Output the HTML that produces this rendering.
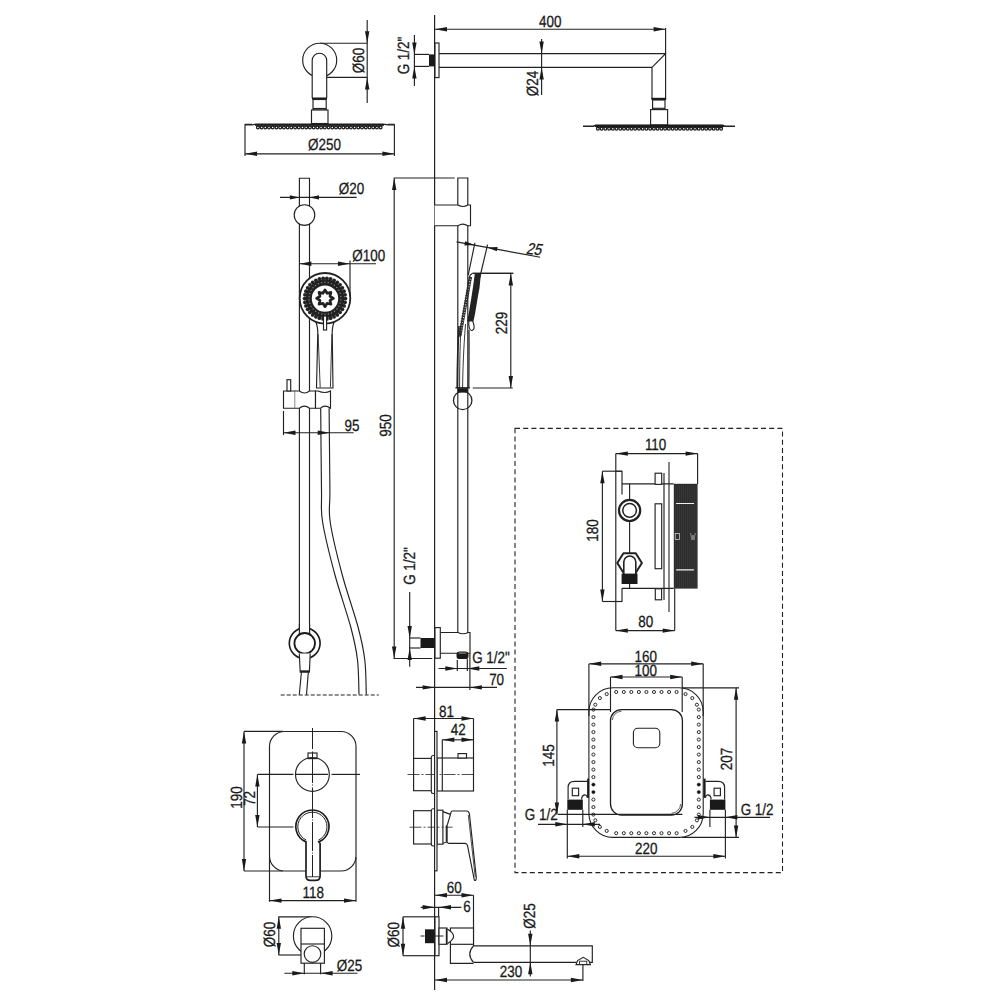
<!DOCTYPE html>
<html><head><meta charset="utf-8"><style>
html,body{margin:0;padding:0;background:#fff;}
svg{display:block;}
text{font-family:"Liberation Sans",sans-serif;fill:#1a1a1a;stroke:#1a1a1a;stroke-width:0.3px;text-rendering:geometricPrecision;}
</style></head><body>
<svg width="1000" height="1000" viewBox="0 0 1000 1000">
<line x1="320" y1="43.2" x2="367.2" y2="43.2" stroke="#222" stroke-width="1.15" />
<line x1="321.5" y1="77.4" x2="367.2" y2="77.4" stroke="#222" stroke-width="1.15" />
<line x1="367.2" y1="20" x2="367.2" y2="103" stroke="#222" stroke-width="1.15" />
<polygon points="367.20,43.20 365.00,31.20 369.40,31.20" fill="#1a1a1a"/>
<polygon points="367.20,77.40 369.40,89.40 365.00,89.40" fill="#1a1a1a"/>
<text transform="translate(364.2,60.5) rotate(-90) scale(0.83,1)" text-anchor="middle" font-size="16.2">Ø60</text>
<circle cx="319.7" cy="60.2" r="17" stroke="#222" stroke-width="1.15" fill="white" />
<path d="M312.2,98 L312.2,60.5 A7.25,7.25 0 0 1 326.7,60.5 L326.7,98" stroke="#222" stroke-width="1.15" fill="white" />
<rect x="312" y="97.5" width="15" height="2.0" fill="#1a1a1a"/>
<rect x="313" y="99.5" width="13.199999999999989" height="10.5" rx="0" stroke="#222" stroke-width="1.15" fill="white" />
<line x1="313" y1="108.5" x2="326.2" y2="108.5" stroke="#222" stroke-width="1.15" />
<rect x="311.5" y="110" width="16.5" height="13.5" rx="0" stroke="#222" stroke-width="1.15" fill="white" />
<polyline points="245,124.9 252,124.9 256,124.2 383,124.2 388,124.9 394.4,124.9" stroke="#222" stroke-width="1.2" fill="none" stroke-linejoin="round" />
<rect x="255" y="124" width="129" height="1.7999999999999972" fill="#1a1a1a"/>
<line x1="245" y1="124.3" x2="252" y2="124.3" stroke="#222" stroke-width="1.15" />
<line x1="388" y1="124.3" x2="394.4" y2="124.3" stroke="#222" stroke-width="1.15" />
<rect x="256" y="125.5" width="126.5" height="1.2" fill="#222"/>
<g fill="#fff" stroke="#1a1a1a" stroke-width="1.25"><circle cx="257.9" cy="127.5" r="1.4"/><circle cx="261.6" cy="127.5" r="1.4"/><circle cx="265.3" cy="127.5" r="1.4"/><circle cx="269.0" cy="127.5" r="1.4"/><circle cx="272.7" cy="127.5" r="1.4"/><circle cx="276.5" cy="127.5" r="1.4"/><circle cx="280.2" cy="127.5" r="1.4"/><circle cx="283.9" cy="127.5" r="1.4"/><circle cx="287.6" cy="127.5" r="1.4"/><circle cx="291.3" cy="127.5" r="1.4"/><circle cx="295.1" cy="127.5" r="1.4"/><circle cx="298.8" cy="127.5" r="1.4"/><circle cx="302.5" cy="127.5" r="1.4"/><circle cx="306.2" cy="127.5" r="1.4"/><circle cx="309.9" cy="127.5" r="1.4"/><circle cx="313.7" cy="127.5" r="1.4"/><circle cx="317.4" cy="127.5" r="1.4"/><circle cx="321.1" cy="127.5" r="1.4"/><circle cx="324.8" cy="127.5" r="1.4"/><circle cx="328.6" cy="127.5" r="1.4"/><circle cx="332.3" cy="127.5" r="1.4"/><circle cx="336.0" cy="127.5" r="1.4"/><circle cx="339.7" cy="127.5" r="1.4"/><circle cx="343.4" cy="127.5" r="1.4"/><circle cx="347.2" cy="127.5" r="1.4"/><circle cx="350.9" cy="127.5" r="1.4"/><circle cx="354.6" cy="127.5" r="1.4"/><circle cx="358.3" cy="127.5" r="1.4"/><circle cx="362.0" cy="127.5" r="1.4"/><circle cx="365.8" cy="127.5" r="1.4"/><circle cx="369.5" cy="127.5" r="1.4"/><circle cx="373.2" cy="127.5" r="1.4"/><circle cx="376.9" cy="127.5" r="1.4"/><circle cx="380.6" cy="127.5" r="1.4"/></g>
<line x1="245" y1="124" x2="245" y2="156" stroke="#222" stroke-width="1.15" />
<line x1="394.4" y1="124" x2="394.4" y2="156" stroke="#222" stroke-width="1.15" />
<line x1="245" y1="153.8" x2="394.4" y2="153.8" stroke="#222" stroke-width="1.15" />
<polygon points="245.00,153.80 257.00,151.60 257.00,156.00" fill="#1a1a1a"/>
<polygon points="394.40,153.80 382.40,156.00 382.40,151.60" fill="#1a1a1a"/>
<text transform="translate(324.5,150) scale(0.83,1)" text-anchor="middle" font-size="16.2">Ø250</text>
<line x1="434.6" y1="15" x2="434.6" y2="990" stroke="#222" stroke-width="1.2" />
<line x1="434.6" y1="29.2" x2="665.6" y2="29.2" stroke="#222" stroke-width="1.15" />
<polygon points="435.00,29.20 447.00,27.00 447.00,31.40" fill="#1a1a1a"/>
<polygon points="665.60,29.20 653.60,31.40 653.60,27.00" fill="#1a1a1a"/>
<line x1="665.6" y1="28" x2="665.6" y2="53.6" stroke="#222" stroke-width="1.15" />
<text transform="translate(550.2,26.8) scale(0.83,1)" text-anchor="middle" font-size="16.2">400</text>
<path d="M439,53.6 L665.6,53.6 L665.6,99 M439,67.4 L652,67.4 L652,99 M665.6,53.6 L652,67.4" stroke="#222" stroke-width="1.15" fill="none" />
<rect x="651.5" y="97.8" width="14.600000000000023" height="2.200000000000003" fill="#1a1a1a"/>
<rect x="652.6" y="100" width="12.399999999999977" height="9.599999999999994" rx="0" stroke="#222" stroke-width="1.15" fill="white" />
<line x1="652.6" y1="108.3" x2="665" y2="108.3" stroke="#222" stroke-width="1.15" />
<rect x="650.6" y="109.6" width="17.0" height="15.400000000000006" rx="0" stroke="#222" stroke-width="1.15" fill="white" />
<polyline points="583,126.3 593,126.3 596,125.2 722,125.2 725,126.3 735,126.3" stroke="#222" stroke-width="1.6" fill="none" stroke-linejoin="round" />
<rect x="595" y="124.9" width="129" height="2.0999999999999943" fill="#1a1a1a"/>
<rect x="596" y="126.7" width="127" height="1.2" fill="#222"/>
<g fill="#fff" stroke="#1a1a1a" stroke-width="1.25"><circle cx="597.9" cy="128.7" r="1.4"/><circle cx="601.6" cy="128.7" r="1.4"/><circle cx="605.3" cy="128.7" r="1.4"/><circle cx="609.1" cy="128.7" r="1.4"/><circle cx="612.8" cy="128.7" r="1.4"/><circle cx="616.5" cy="128.7" r="1.4"/><circle cx="620.3" cy="128.7" r="1.4"/><circle cx="624.0" cy="128.7" r="1.4"/><circle cx="627.8" cy="128.7" r="1.4"/><circle cx="631.5" cy="128.7" r="1.4"/><circle cx="635.2" cy="128.7" r="1.4"/><circle cx="639.0" cy="128.7" r="1.4"/><circle cx="642.7" cy="128.7" r="1.4"/><circle cx="646.4" cy="128.7" r="1.4"/><circle cx="650.2" cy="128.7" r="1.4"/><circle cx="653.9" cy="128.7" r="1.4"/><circle cx="657.6" cy="128.7" r="1.4"/><circle cx="661.4" cy="128.7" r="1.4"/><circle cx="665.1" cy="128.7" r="1.4"/><circle cx="668.8" cy="128.7" r="1.4"/><circle cx="672.6" cy="128.7" r="1.4"/><circle cx="676.3" cy="128.7" r="1.4"/><circle cx="680.0" cy="128.7" r="1.4"/><circle cx="683.8" cy="128.7" r="1.4"/><circle cx="687.5" cy="128.7" r="1.4"/><circle cx="691.2" cy="128.7" r="1.4"/><circle cx="695.0" cy="128.7" r="1.4"/><circle cx="698.7" cy="128.7" r="1.4"/><circle cx="702.5" cy="128.7" r="1.4"/><circle cx="706.2" cy="128.7" r="1.4"/><circle cx="709.9" cy="128.7" r="1.4"/><circle cx="713.7" cy="128.7" r="1.4"/><circle cx="717.4" cy="128.7" r="1.4"/><circle cx="721.1" cy="128.7" r="1.4"/></g>
<rect x="435" y="43" width="4" height="34.599999999999994" rx="0" stroke="#222" stroke-width="1.15" fill="white" />
<rect x="429" y="54.4" width="6" height="12.000000000000007" fill="#1a1a1a"/>
<line x1="414.4" y1="35" x2="414.4" y2="86" stroke="#222" stroke-width="1.15" />
<line x1="414.4" y1="54.4" x2="429" y2="54.4" stroke="#222" stroke-width="1.15" />
<line x1="414.4" y1="66.4" x2="429" y2="66.4" stroke="#222" stroke-width="1.15" />
<polygon points="414.40,54.40 412.20,42.40 416.60,42.40" fill="#1a1a1a"/>
<polygon points="414.40,66.40 416.60,78.40 412.20,78.40" fill="#1a1a1a"/>
<text transform="translate(408.8,55.5) rotate(-90) scale(0.83,1)" text-anchor="middle" font-size="16.2">G 1/2&quot;</text>
<line x1="541.6" y1="39" x2="541.6" y2="95" stroke="#222" stroke-width="1.15" />
<polygon points="541.60,53.60 539.40,41.60 543.80,41.60" fill="#1a1a1a"/>
<polygon points="541.60,67.40 543.80,79.40 539.40,79.40" fill="#1a1a1a"/>
<text transform="translate(537.8,83.5) rotate(-90) scale(0.83,1)" text-anchor="middle" font-size="16.2">Ø24</text>
<path d="M299.4,629.8 L299.4,178.2 L309.5,178.2 L309.5,629.8" stroke="#222" stroke-width="1.15" fill="none" />
<circle cx="304.5" cy="215" r="10.3" stroke="#222" stroke-width="1.15" fill="white" />
<line x1="280" y1="197.4" x2="356.7" y2="197.4" stroke="#222" stroke-width="1.15" />
<polygon points="299.40,197.40 289.90,199.60 289.90,195.20" fill="#1a1a1a"/>
<polygon points="309.50,197.40 319.00,195.20 319.00,199.60" fill="#1a1a1a"/>
<text transform="translate(351.5,194) scale(0.83,1)" text-anchor="middle" font-size="16.2">Ø20</text>
<line x1="299.4" y1="263.7" x2="376" y2="263.7" stroke="#222" stroke-width="1.15" />
<polygon points="299.40,263.70 311.40,261.50 311.40,265.90" fill="#1a1a1a"/>
<polygon points="350.00,263.70 338.00,265.90 338.00,261.50" fill="#1a1a1a"/>
<line x1="350" y1="260.5" x2="350" y2="298" stroke="#222" stroke-width="1.15" />
<text transform="translate(368.8,260.7) scale(0.83,1)" text-anchor="middle" font-size="16.2">Ø100</text>
<path d="M314.8,318 C316.5,323 317.8,327 317.8,332 L316.5,388 L333,388 L332.2,332 C332.2,327 333.5,323 335.2,318" stroke="#222" stroke-width="1.15" fill="white" />
<path d="M318.1,334 L320.2,387.5" stroke="#222" stroke-width="0.9" fill="none" />
<path d="M331.9,334 L330.4,387.5" stroke="#222" stroke-width="0.9" fill="none" />
<circle cx="325" cy="298.3" r="25.3" stroke="#222" stroke-width="1.8" fill="white" />
<circle cx="325" cy="298.6" r="16.3" stroke="#222" stroke-width="6.2" fill="none"/>
<g fill="#222"><circle cx="345.40" cy="298.60" r="1.9"/><circle cx="345.05" cy="302.35" r="1.9"/><circle cx="344.02" cy="305.97" r="1.9"/><circle cx="342.34" cy="309.34" r="1.9"/><circle cx="340.08" cy="312.34" r="1.9"/><circle cx="337.29" cy="314.88" r="1.9"/><circle cx="334.09" cy="316.86" r="1.9"/><circle cx="330.58" cy="318.22" r="1.9"/><circle cx="326.88" cy="318.91" r="1.9"/><circle cx="323.12" cy="318.91" r="1.9"/><circle cx="319.42" cy="318.22" r="1.9"/><circle cx="315.91" cy="316.86" r="1.9"/><circle cx="312.71" cy="314.88" r="1.9"/><circle cx="309.92" cy="312.34" r="1.9"/><circle cx="307.66" cy="309.34" r="1.9"/><circle cx="305.98" cy="305.97" r="1.9"/><circle cx="304.95" cy="302.35" r="1.9"/><circle cx="304.60" cy="298.60" r="1.9"/><circle cx="304.95" cy="294.85" r="1.9"/><circle cx="305.98" cy="291.23" r="1.9"/><circle cx="307.66" cy="287.86" r="1.9"/><circle cx="309.92" cy="284.86" r="1.9"/><circle cx="312.71" cy="282.32" r="1.9"/><circle cx="315.91" cy="280.34" r="1.9"/><circle cx="319.42" cy="278.98" r="1.9"/><circle cx="323.12" cy="278.29" r="1.9"/><circle cx="326.88" cy="278.29" r="1.9"/><circle cx="330.58" cy="278.98" r="1.9"/><circle cx="334.09" cy="280.34" r="1.9"/><circle cx="337.29" cy="282.32" r="1.9"/><circle cx="340.08" cy="284.86" r="1.9"/><circle cx="342.34" cy="287.86" r="1.9"/><circle cx="344.02" cy="291.23" r="1.9"/><circle cx="345.05" cy="294.85" r="1.9"/></g>
<g fill="#888"><circle cx="340.92" cy="299.90" r="0.7"/><circle cx="340.24" cy="303.17" r="0.7"/><circle cx="338.89" cy="306.23" r="0.7"/><circle cx="336.94" cy="308.95" r="0.7"/><circle cx="334.47" cy="311.20" r="0.7"/><circle cx="331.58" cy="312.89" r="0.7"/><circle cx="328.40" cy="313.93" r="0.7"/><circle cx="325.08" cy="314.30" r="0.7"/><circle cx="321.75" cy="313.97" r="0.7"/><circle cx="318.56" cy="312.95" r="0.7"/><circle cx="315.66" cy="311.29" r="0.7"/><circle cx="313.16" cy="309.06" r="0.7"/><circle cx="311.18" cy="306.37" r="0.7"/><circle cx="309.81" cy="303.32" r="0.7"/><circle cx="309.10" cy="300.05" r="0.7"/><circle cx="309.08" cy="296.70" r="0.7"/><circle cx="309.76" cy="293.43" r="0.7"/><circle cx="311.11" cy="290.37" r="0.7"/><circle cx="313.06" cy="287.65" r="0.7"/><circle cx="315.53" cy="285.40" r="0.7"/><circle cx="318.42" cy="283.71" r="0.7"/><circle cx="321.60" cy="282.67" r="0.7"/><circle cx="324.92" cy="282.30" r="0.7"/><circle cx="328.25" cy="282.63" r="0.7"/><circle cx="331.44" cy="283.65" r="0.7"/><circle cx="334.34" cy="285.31" r="0.7"/><circle cx="336.84" cy="287.54" r="0.7"/><circle cx="338.82" cy="290.23" r="0.7"/><circle cx="340.19" cy="293.28" r="0.7"/><circle cx="340.90" cy="296.55" r="0.7"/></g>
<polygon points="325.0,289.9 327.07,293.31 330.94,292.36 329.99,296.23 333.4,298.3 329.99,300.37 330.94,304.24 327.07,303.29 325.0,306.7 322.93,303.29 319.06,304.24 320.01,300.37 316.6,298.3 320.01,296.23 319.06,292.36 322.93,293.31" stroke="#222" stroke-width="2.7" fill="white" stroke-linejoin="round" />
<rect x="323.5" y="316" width="3.1000000000000227" height="14" rx="0" stroke="#222" stroke-width="1.15" fill="white" />
<path d="M283.5,391 L295.2,391 L295.2,408.2 L283.5,408.2 Z" stroke="#222" stroke-width="1.15" fill="white" />
<rect x="287" y="379.7" width="3.6999999999999886" height="11.300000000000011" rx="0" stroke="#222" stroke-width="1.15" fill="white" />
<path d="M295.2,391 L299.4,391 Q304.5,395 309.5,391 L315.5,391 L315.5,408.2 L309.5,408.2 Q304.5,404 299.4,408.2 L295.2,408.2" stroke="#222" stroke-width="1.15" fill="white" />
<path d="M315.5,391 L318,391 Q325,394 330.5,391 L330.5,408.2 Q325,404 320.5,408.2 L315.5,408.2 Z" stroke="#222" stroke-width="1.15" fill="white" />
<path d="M320.7,408.2 C320.83,421.83 321.18,471.03 321.5,490 C321.82,508.97 320.40,508.00 322.6,522 C324.80,536.00 329.97,556.33 334.7,574 C339.43,591.67 347.20,613.67 351,628 C354.80,642.33 356.17,648.90 357.5,660 C358.83,671.10 358.75,688.83 359,694.6" stroke="#222" stroke-width="1.15" fill="none" />
<path d="M329.09999999999997,408.2 C329.23,421.83 329.72,471.03 329.9,490 C330.08,508.97 328.18,508.00 330.20000000000005,522 C332.22,536.00 337.32,556.33 342.0,574 C346.68,591.67 354.50,613.67 358.3,628 C362.10,642.33 363.47,648.90 364.8,660 C366.13,671.10 366.05,688.83 366.3,694.6" stroke="#222" stroke-width="1.15" fill="none" />
<line x1="283.5" y1="411" x2="283.5" y2="435" stroke="#222" stroke-width="1.15" />
<line x1="283.5" y1="432.7" x2="353.7" y2="432.7" stroke="#222" stroke-width="1.15" />
<polygon points="283.50,432.70 295.50,430.50 295.50,434.90" fill="#1a1a1a"/>
<polygon points="329.70,432.70 317.70,434.90 317.70,430.50" fill="#1a1a1a"/>
<text transform="translate(351.9,430.7) scale(0.83,1)" text-anchor="middle" font-size="16.2">95</text>
<circle cx="304.7" cy="643.3" r="15.4" stroke="#1a1a1a" stroke-width="1.6" fill="white" />
<rect x="299.6" y="624" width="9.8" height="12" fill="white"/>
<line x1="299.4" y1="624" x2="299.4" y2="636" stroke="#222" stroke-width="1.15" />
<line x1="309.6" y1="624" x2="309.6" y2="636" stroke="#222" stroke-width="1.15" />
<circle cx="304.7" cy="643.3" r="10.3" stroke="#1a1a1a" stroke-width="1.8" fill="white" />
<rect x="300" y="655.5" width="9.6" height="6" fill="white"/>
<path d="M299.3,653.5 L300.2,672.2 L309.4,672.2 L310.2,653.5" stroke="#222" stroke-width="1.15" fill="white" />
<line x1="300.2" y1="671.2" x2="309.4" y2="671.2" stroke="#222" stroke-width="1.8" />
<line x1="301.4" y1="672.2" x2="299.3" y2="694.8" stroke="#222" stroke-width="1.15" />
<line x1="308.3" y1="672.2" x2="306.5" y2="694.8" stroke="#222" stroke-width="1.15" />
<line x1="280.7" y1="695" x2="378.8" y2="695" stroke="#222" stroke-width="1.2" stroke-dasharray="4,2"/>
<line x1="394.2" y1="177.8" x2="394.2" y2="658.5" stroke="#222" stroke-width="1.15" />
<line x1="394.2" y1="178" x2="454.7" y2="178" stroke="#222" stroke-width="1.15" />
<line x1="393.5" y1="658.5" x2="432.2" y2="658.5" stroke="#222" stroke-width="1.15" />
<polygon points="394.20,178.00 396.40,190.00 392.00,190.00" fill="#1a1a1a"/>
<polygon points="394.20,658.50 392.00,646.50 396.40,646.50" fill="#1a1a1a"/>
<text transform="translate(391,425.5) rotate(-90) scale(0.83,1)" text-anchor="middle" font-size="16.2">950</text>
<path d="M457.8,633.4 L457.8,178 L467.8,178 L467.8,633.4" stroke="#222" stroke-width="1.15" fill="none" />
<path d="M434.6,205 L458,205 Q462.8,208 467.8,205 L470.5,205 L470.5,225.7 L467.8,225.7 Q462.8,222.5 458,225.7 L434.6,225.7" stroke="#222" stroke-width="1.15" fill="white" />
<line x1="472.4" y1="273.4" x2="513.2" y2="273.4" stroke="#222" stroke-width="1.15" />
<path d="M472.4,273.4 C470.5,274 469.5,276 469.3,278 L459,337" stroke="#222" stroke-width="1.1" fill="none" />
<path d="M470.2,277 L459.6,336" stroke="#2a2a2a" stroke-width="3.0" fill="none" stroke-dasharray="1.7,0.9"/>
<path d="M471.6,277 L461,336" stroke="#222" stroke-width="0.8" fill="none" />
<polygon points="474.8,273.8 481,273.8 480.3,280 479.5,288 478,296 476.5,305 475,314 473.4,321.5 467.2,321.5 469,312 471,300 473,287" fill="#222"/>
<path d="M468.8,321 C468.5,326 469.5,331 472,330.5 C475,330 474.5,325 472.6,321" stroke="#222" stroke-width="1.1" fill="none" />
<path d="M459,326 C457.5,350 457.3,370 457.2,388" stroke="#222" stroke-width="1.6" fill="none" />
<path d="M461,326 C459.8,350 459.6,370 459.6,388" stroke="#222" stroke-width="0.9" fill="none" />
<path d="M465.5,324 C463.5,350 462.8,370 462.6,388" stroke="#222" stroke-width="0.9" fill="none" />
<path d="M469,330 C469.2,350 469,370 468.8,388" stroke="#222" stroke-width="1.2" fill="none" />
<circle cx="462.7" cy="400.4" r="9.2" stroke="#222" stroke-width="1.3" fill="none" />
<line x1="455.4" y1="387.8" x2="469.9" y2="387.8" stroke="#222" stroke-width="1.4" />
<rect x="457.6" y="388.2" width="10.199999999999989" height="4.400000000000034" fill="#1a1a1a"/>
<line x1="456.5" y1="241.9" x2="540.2" y2="257.2" stroke="#222" stroke-width="1.15" />
<line x1="474.9" y1="242.8" x2="468.2" y2="275.2" stroke="#222" stroke-width="1.15" />
<line x1="487.6" y1="244.6" x2="479.9" y2="277" stroke="#222" stroke-width="1.15" />
<polygon points="474.60,245.10 464.37,245.46 465.16,241.14" fill="#1a1a1a"/>
<polygon points="487.40,247.40 497.63,247.04 496.84,251.36" fill="#1a1a1a"/>
<text transform="translate(533.2,254.5) rotate(6) skewX(-12) scale(0.83,1)" text-anchor="middle" font-size="16.2">25</text>
<line x1="472.7" y1="273.4" x2="513.2" y2="273.4" stroke="#222" stroke-width="1.15" />
<line x1="472.8" y1="388" x2="512.8" y2="388" stroke="#222" stroke-width="1.15" />
<line x1="510.8" y1="273.4" x2="510.8" y2="388" stroke="#222" stroke-width="1.15" />
<polygon points="510.80,273.60 513.00,285.60 508.60,285.60" fill="#1a1a1a"/>
<polygon points="510.80,388.00 508.60,376.00 513.00,376.00" fill="#1a1a1a"/>
<text transform="translate(507.2,323) rotate(-90) scale(0.83,1)" text-anchor="middle" font-size="16.2">229</text>
<path d="M440.3,632.5 L458,632.5 Q463,635 468.2,632.5 L470,632.5 L470,653.2 L440.3,653.2" stroke="#222" stroke-width="1.15" fill="white" />
<rect x="435" y="627.6" width="5.300000000000011" height="30.600000000000023" rx="0" stroke="#222" stroke-width="1.15" fill="white" />
<rect x="420.5" y="638" width="14.0" height="10" fill="#1a1a1a"/>
<rect x="456.5" y="651.5" width="12" height="7.6" rx="3.2" fill="#1a1a1a"/>
<rect x="458.5" y="652.3" width="8" height="1.6" rx="0.8" fill="#666"/>
<line x1="409.7" y1="592" x2="409.7" y2="666.7" stroke="#222" stroke-width="1.15" />
<line x1="409.7" y1="638" x2="420.5" y2="638" stroke="#222" stroke-width="1.15" />
<line x1="409.7" y1="648" x2="420.5" y2="648" stroke="#222" stroke-width="1.15" />
<polygon points="409.70,638.00 407.50,626.00 411.90,626.00" fill="#1a1a1a"/>
<polygon points="409.70,648.00 411.90,660.00 407.50,660.00" fill="#1a1a1a"/>
<text transform="translate(415,566) rotate(-90) scale(0.83,1)" text-anchor="middle" font-size="16.2">G 1/2&quot;</text>
<text transform="translate(491,663) scale(0.83,1)" text-anchor="middle" font-size="16.2">G 1/2&quot;</text>
<line x1="438.5" y1="668.5" x2="506.9" y2="668.5" stroke="#222" stroke-width="1.15" />
<line x1="457.3" y1="660" x2="457.3" y2="671" stroke="#222" stroke-width="1.15" />
<line x1="467.3" y1="659" x2="467.3" y2="671" stroke="#222" stroke-width="1.15" />
<polygon points="457.30,668.50 445.30,670.70 445.30,666.30" fill="#1a1a1a"/>
<polygon points="467.30,668.50 479.30,666.30 479.30,670.70" fill="#1a1a1a"/>
<line x1="416" y1="687.4" x2="497" y2="687.4" stroke="#222" stroke-width="1.15" />
<line x1="469.9" y1="653.2" x2="469.9" y2="690" stroke="#222" stroke-width="1.15" />
<polygon points="434.60,687.40 422.60,689.60 422.60,685.20" fill="#1a1a1a"/>
<polygon points="469.90,687.40 481.90,685.20 481.90,689.60" fill="#1a1a1a"/>
<text transform="translate(496.6,684.7) scale(0.83,1)" text-anchor="middle" font-size="16.2">70</text>
<line x1="244" y1="731.4" x2="283" y2="731.4" stroke="#222" stroke-width="1.15" />
<line x1="244" y1="871" x2="283" y2="871" stroke="#222" stroke-width="1.15" />
<line x1="244" y1="731.4" x2="244" y2="871" stroke="#222" stroke-width="1.15" />
<polygon points="244.00,731.40 246.20,743.40 241.80,743.40" fill="#1a1a1a"/>
<polygon points="244.00,871.00 241.80,859.00 246.20,859.00" fill="#1a1a1a"/>
<text transform="translate(241.8,797.5) rotate(-90) scale(0.83,1)" text-anchor="middle" font-size="16.2">190</text>
<rect x="269.5" y="731.5" width="86.5" height="139.5" rx="15" stroke="#222" stroke-width="1.15" fill="white" />
<line x1="257.4" y1="774.4" x2="257.4" y2="827" stroke="#222" stroke-width="1.15" />
<line x1="257.4" y1="774.4" x2="293.5" y2="774.4" stroke="#222" stroke-width="1.15" />
<line x1="257.4" y1="827" x2="293.5" y2="827" stroke="#222" stroke-width="1.15" />
<polygon points="257.40,774.40 259.60,786.40 255.20,786.40" fill="#1a1a1a"/>
<polygon points="257.40,827.00 255.20,815.00 259.60,815.00" fill="#1a1a1a"/>
<text transform="translate(255.2,798.4) rotate(-90) scale(0.83,1)" text-anchor="middle" font-size="16.2">72</text>
<rect x="308" y="753" width="9" height="5.600000000000023" rx="0" stroke="#222" stroke-width="1.15" fill="white" />
<circle cx="312.4" cy="774.4" r="16.9" stroke="#222" stroke-width="1.15" fill="none" />
<line x1="295.5" y1="774.4" x2="328" y2="774.4" stroke="#222" stroke-width="1.15" />
<line x1="331.5" y1="774.4" x2="360" y2="774.4" stroke="#222" stroke-width="1.15" />
<path d="M306,841.9 A16.6,16.6 0 1 1 318.8,841.9 L320.1,843.5 L320.1,876 Q320.1,880.4 315.7,880.4 L310.4,880.4 Q306,880.4 306,876 L306,843.5 Z" stroke="#1e1e1e" stroke-width="1.7" fill="white" />
<path d="M306.2,840 A14.6,14.6 0 1 1 318.6,840" stroke="#222" stroke-width="1.0" fill="none" />
<line x1="306.8" y1="876.8" x2="319.3" y2="876.8" stroke="#222" stroke-width="0.9" />
<line x1="312.5" y1="728" x2="312.5" y2="749" stroke="#222" stroke-width="1.0" />
<line x1="312.5" y1="751.5" x2="312.5" y2="783" stroke="#222" stroke-width="1.0" />
<line x1="312.5" y1="784.5" x2="312.5" y2="785.5" stroke="#222" stroke-width="1.0" />
<line x1="312.5" y1="787.5" x2="312.5" y2="818" stroke="#222" stroke-width="1.0" />
<line x1="312.5" y1="819.5" x2="312.5" y2="820.5" stroke="#222" stroke-width="1.0" />
<line x1="312.5" y1="822" x2="312.5" y2="851" stroke="#222" stroke-width="1.0" />
<line x1="312.5" y1="852.5" x2="312.5" y2="853.5" stroke="#222" stroke-width="1.0" />
<line x1="312.5" y1="855" x2="312.5" y2="877" stroke="#222" stroke-width="1.0" />
<line x1="269.5" y1="857" x2="269.5" y2="901.8" stroke="#222" stroke-width="1.15" />
<line x1="356" y1="857" x2="356" y2="901.8" stroke="#222" stroke-width="1.15" />
<line x1="269.5" y1="900.6" x2="356" y2="900.6" stroke="#222" stroke-width="1.15" />
<polygon points="269.50,900.60 281.50,898.40 281.50,902.80" fill="#1a1a1a"/>
<polygon points="356.00,900.60 344.00,902.80 344.00,898.40" fill="#1a1a1a"/>
<text transform="translate(313.2,898) scale(0.83,1)" text-anchor="middle" font-size="16.2">118</text>
<line x1="278.5" y1="916.8" x2="311.6" y2="916.8" stroke="#222" stroke-width="1.15" />
<line x1="278.5" y1="955" x2="301" y2="955" stroke="#222" stroke-width="1.15" />
<line x1="278.8" y1="916.8" x2="278.8" y2="955" stroke="#222" stroke-width="1.15" />
<polygon points="278.80,916.80 281.00,928.80 276.60,928.80" fill="#1a1a1a"/>
<polygon points="278.80,955.00 276.60,943.00 281.00,943.00" fill="#1a1a1a"/>
<text transform="translate(274.7,934.5) rotate(-90) scale(0.83,1)" text-anchor="middle" font-size="16.2">Ø60</text>
<circle cx="312.6" cy="935.9" r="19.2" stroke="#222" stroke-width="1.15" fill="white" />
<rect x="301" y="928.3" width="23.399999999999977" height="34.90000000000009" rx="0" stroke="#222" stroke-width="1.15" fill="white" />
<line x1="301" y1="944" x2="324.4" y2="944" stroke="#222" stroke-width="1.15" />
<circle cx="312.5" cy="954" r="8.3" stroke="#222" stroke-width="1.15" fill="white" />
<line x1="304.3" y1="963" x2="304.3" y2="974.3" stroke="#222" stroke-width="1.15" />
<line x1="320.6" y1="963" x2="320.6" y2="974.3" stroke="#222" stroke-width="1.15" />
<line x1="284.4" y1="973.2" x2="357.5" y2="973.2" stroke="#222" stroke-width="1.15" />
<polygon points="304.30,973.20 292.30,975.40 292.30,971.00" fill="#1a1a1a"/>
<polygon points="320.60,973.20 332.60,971.00 332.60,975.40" fill="#1a1a1a"/>
<text transform="translate(349.5,971) scale(0.83,1)" text-anchor="middle" font-size="16.2">Ø25</text>
<line x1="413.6" y1="718.5" x2="473.5" y2="718.5" stroke="#222" stroke-width="1.15" />
<polygon points="413.60,718.50 425.60,716.30 425.60,720.70" fill="#1a1a1a"/>
<polygon points="473.50,718.50 461.50,720.70 461.50,716.30" fill="#1a1a1a"/>
<text transform="translate(446.5,716.6) scale(0.83,1)" text-anchor="middle" font-size="16.2">81</text>
<line x1="442.3" y1="739.8" x2="473.5" y2="739.8" stroke="#222" stroke-width="1.15" />
<polygon points="442.30,739.80 454.30,737.60 454.30,742.00" fill="#1a1a1a"/>
<polygon points="473.50,739.80 461.50,742.00 461.50,737.60" fill="#1a1a1a"/>
<text transform="translate(458.2,734.7) scale(0.83,1)" text-anchor="middle" font-size="16.2">42</text>
<line x1="413.6" y1="718.5" x2="413.6" y2="790.7" stroke="#222" stroke-width="1.15" />
<line x1="473.5" y1="718.5" x2="473.5" y2="758" stroke="#222" stroke-width="1.15" />
<line x1="442.3" y1="739.8" x2="442.3" y2="758" stroke="#222" stroke-width="1.15" />
<rect x="413.6" y="758.4" width="20.899999999999977" height="32.30000000000007" rx="0" stroke="#222" stroke-width="1.15" fill="white" />
<rect x="437" y="758" width="36.5" height="33" rx="0" stroke="#222" stroke-width="1.15" fill="white" />
<line x1="442.3" y1="758" x2="442.3" y2="791" stroke="#222" stroke-width="1.15" />
<rect x="458" y="753.6" width="8.5" height="4.399999999999977" rx="0" stroke="#222" stroke-width="1.15" fill="white" />
<path d="M434.5,755.5 L433,755.5 Q431.3,755.5 431.3,757.5 L431.3,791.5 Q431.3,793.5 433,793.5 L434.5,793.5" stroke="#222" stroke-width="1.15" fill="white" />
<line x1="407.5" y1="774.5" x2="475" y2="774.5" stroke="#222" stroke-width="0.8" stroke-dasharray="12,2,2,2"/>
<rect x="413.6" y="810.7" width="20.899999999999977" height="33.299999999999955" rx="0" stroke="#222" stroke-width="1.15" fill="white" />
<path d="M434.5,808.7 L433,808.7 Q431.3,808.7 431.3,810.7 L431.3,844 Q431.3,846 433,846 L434.5,846" stroke="#222" stroke-width="1.15" fill="white" />
<rect x="436.9" y="810.2" width="6.0" height="34.0" rx="0" stroke="#222" stroke-width="1.15" fill="white" />
<path d="M442.9,811.6 L450.5,814.4 M446.3,825.5 L446.3,842.2 L442.9,843.3" stroke="#222" stroke-width="1.15" fill="none" />
<path d="M452.2,811 L466.7,811 Q468.6,811 469.4,813.8 L476.3,877.5 Q476.3,881.5 474.3,880 L467.6,845.8 Q467,843.4 465,843.4 L449,843.4 Q447.1,843.4 447.1,841.5 L447.1,825.5 L450.5,814.4 Q451,811 452.2,811 Z" stroke="#222" stroke-width="1.15" fill="white" />
<path d="M468.3,815 L475.2,877" stroke="#222" stroke-width="0.8" fill="none" />
<line x1="409.5" y1="827.2" x2="452.6" y2="827.2" stroke="#222" stroke-width="0.8" stroke-dasharray="12,2,2,2"/>
<rect x="434.6" y="731.4" width="2.3999999999999773" height="139.39999999999998" rx="0" stroke="#222" stroke-width="1.15" fill="white" />
<line x1="435" y1="895.2" x2="473.5" y2="895.2" stroke="#222" stroke-width="1.15" />
<polygon points="435.00,895.20 447.00,893.00 447.00,897.40" fill="#1a1a1a"/>
<polygon points="473.50,895.20 461.50,897.40 461.50,893.00" fill="#1a1a1a"/>
<line x1="473.5" y1="895.2" x2="473.5" y2="946" stroke="#222" stroke-width="1.15" />
<text transform="translate(454.2,893) scale(0.83,1)" text-anchor="middle" font-size="16.2">60</text>
<line x1="420.7" y1="907.3" x2="461.4" y2="907.3" stroke="#222" stroke-width="1.15" />
<line x1="438.6" y1="907.3" x2="438.6" y2="916.8" stroke="#222" stroke-width="1.15" />
<polygon points="434.60,907.30 422.60,909.50 422.60,905.10" fill="#1a1a1a"/>
<polygon points="439.00,907.30 451.00,905.10 451.00,909.50" fill="#1a1a1a"/>
<text transform="translate(467,911.7) scale(0.83,1)" text-anchor="middle" font-size="16.2">6</text>
<line x1="403" y1="916.8" x2="435" y2="916.8" stroke="#222" stroke-width="1.15" />
<line x1="403" y1="955.7" x2="435" y2="955.7" stroke="#222" stroke-width="1.15" />
<line x1="403" y1="916.8" x2="403" y2="955.7" stroke="#222" stroke-width="1.15" />
<polygon points="403.00,916.80 405.20,928.80 400.80,928.80" fill="#1a1a1a"/>
<polygon points="403.00,955.70 400.80,943.70 405.20,943.70" fill="#1a1a1a"/>
<text transform="translate(399,934.8) rotate(-90) scale(0.83,1)" text-anchor="middle" font-size="16.2">Ø60</text>
<rect x="435" y="916.8" width="4" height="38.90000000000009" rx="0" stroke="#222" stroke-width="1.15" fill="white" />
<rect x="425" y="929.3" width="9.300000000000011" height="13.900000000000091" fill="#1a1a1a"/>
<rect x="439" y="928" width="8" height="16.299999999999955" rx="0" stroke="#222" stroke-width="1.15" fill="white" />
<rect x="450.4" y="928" width="23.100000000000023" height="16.299999999999955" rx="0" stroke="#222" stroke-width="1.15" fill="white" />
<path d="M447.6,929.2 Q459.6,936.3 447.6,943.4" stroke="#222" stroke-width="1.15" fill="white" />
<line x1="446.6" y1="928.4" x2="446.6" y2="944" stroke="#222" stroke-width="1.6" />
<path d="M450.4,944.3 L450.4,963.4 L473.5,963.4" stroke="#222" stroke-width="1.15" fill="none" />
<path d="M473.5,945.8 L592.3,945.8 L592.3,962.3 L473.5,962.3" stroke="#222" stroke-width="1.15" fill="none" />
<path d="M473.5,945.8 Q466,954 473.5,962.3" stroke="#222" stroke-width="1.15" fill="white" />
<path d="M576,964.6 L577.6,960.6 L583.2,957.3 L588.8,960.6 L590.4,964.6 Z" stroke="#222" stroke-width="1.1" fill="white" />
<rect x="579.6" y="961.2" width="7.199999999999932" height="3.199999999999932" rx="0" stroke="#222" stroke-width="0.9" fill="white" />
<line x1="420.5" y1="936" x2="424.5" y2="936" stroke="#222" stroke-width="1.0" />
<line x1="434.5" y1="936" x2="443.5" y2="936" stroke="#222" stroke-width="1.0" />
<line x1="530.3" y1="930.4" x2="530.3" y2="976.6" stroke="#222" stroke-width="1.15" />
<polygon points="530.30,945.80 528.10,933.80 532.50,933.80" fill="#1a1a1a"/>
<polygon points="530.30,962.30 532.50,974.30 528.10,974.30" fill="#1a1a1a"/>
<text transform="translate(534.5,916) rotate(-90) scale(0.83,1)" text-anchor="middle" font-size="16.2">Ø25</text>
<line x1="435" y1="980" x2="582.9" y2="980" stroke="#222" stroke-width="1.15" />
<polygon points="435.00,980.00 447.00,977.80 447.00,982.20" fill="#1a1a1a"/>
<polygon points="582.90,980.00 570.90,982.20 570.90,977.80" fill="#1a1a1a"/>
<line x1="582.9" y1="964.6" x2="582.9" y2="981" stroke="#222" stroke-width="1.15" />
<text transform="translate(511,976.6) scale(0.83,1)" text-anchor="middle" font-size="16.2">230</text>
<rect x="515" y="428.4" width="267.5" height="444.20000000000005" rx="0" stroke="#222" stroke-width="1.1" fill="none" stroke-dasharray="5,3.2"/>
<line x1="615.8" y1="453.6" x2="697.6" y2="453.6" stroke="#222" stroke-width="1.15" />
<polygon points="615.80,453.60 627.80,451.40 627.80,455.80" fill="#1a1a1a"/>
<polygon points="697.60,453.60 685.60,455.80 685.60,451.40" fill="#1a1a1a"/>
<line x1="615.8" y1="453.6" x2="615.8" y2="630.6" stroke="#222" stroke-width="1.15" />
<line x1="697.6" y1="453.6" x2="697.6" y2="484" stroke="#222" stroke-width="1.15" />
<text transform="translate(655.6,449.6) scale(0.83,1)" text-anchor="middle" font-size="16.2">110</text>
<line x1="602.4" y1="471.2" x2="602.4" y2="601.5" stroke="#222" stroke-width="1.15" />
<line x1="602.4" y1="471.2" x2="622" y2="471.2" stroke="#222" stroke-width="1.15" />
<line x1="602.4" y1="601.5" x2="622" y2="601.5" stroke="#222" stroke-width="1.15" />
<polygon points="602.40,471.20 604.60,483.20 600.20,483.20" fill="#1a1a1a"/>
<polygon points="602.40,601.50 600.20,589.50 604.60,589.50" fill="#1a1a1a"/>
<text transform="translate(598.2,530.6) rotate(-90) scale(0.83,1)" text-anchor="middle" font-size="16.2">180</text>
<path d="M615.8,471.2 L622,471.2 L622,494.5 M622,588.2 L622,601.5 L615.8,601.5" stroke="#222" stroke-width="1.15" fill="none" />
<line x1="622" y1="483.8" x2="673.8" y2="483.8" stroke="#222" stroke-width="1.15" />
<line x1="622" y1="588.4" x2="673.8" y2="588.4" stroke="#222" stroke-width="1.15" />
<line x1="629.6" y1="483.8" x2="629.6" y2="588.4" stroke="#222" stroke-width="1.15" />
<circle cx="629.6" cy="510.4" r="10.6" stroke="#222" stroke-width="2.2" fill="white" />
<circle cx="629.6" cy="510.4" r="6.8" stroke="#222" stroke-width="1.5" fill="white" />
<polygon points="641.9,563.0 635.75,572.79 623.45,572.79 617.3,563.0 623.45,553.21 635.75,553.21" stroke="#222" stroke-width="2.0" fill="white" stroke-linejoin="round" />
<path d="M623.8,575 L623.8,562 A6,6 0 0 1 635.8,562 L635.8,575" stroke="#222" stroke-width="1.6" fill="white" />
<rect x="621.6" y="573.6" width="15.899999999999977" height="10.399999999999977" fill="#1a1a1a"/>
<rect x="655.1" y="473.2" width="6.600000000000023" height="11.199999999999989" rx="0" stroke="#222" stroke-width="1.15" fill="white" />
<rect x="655.3" y="588.8" width="6.300000000000068" height="11.0" rx="0" stroke="#222" stroke-width="1.15" fill="white" />
<rect x="655.1" y="503.8" width="6.600000000000023" height="64.90000000000003" rx="0" stroke="#222" stroke-width="1.15" fill="white" />
<line x1="664" y1="473" x2="664" y2="600" stroke="#222" stroke-width="1.15" />
<line x1="669" y1="462" x2="669" y2="612" stroke="#222" stroke-width="1.1" />
<rect x="673.8" y="483.8" width="23.800000000000068" height="104.80000000000001" fill="#2a2a2a"/>
<g stroke="#474747" stroke-width="0.55"><line x1="675.2" y1="485" x2="675.2" y2="588" /><line x1="677.3" y1="485" x2="677.3" y2="588" /><line x1="679.4" y1="485" x2="679.4" y2="588" /><line x1="681.5" y1="485" x2="681.5" y2="588" /><line x1="683.6" y1="485" x2="683.6" y2="588" /><line x1="685.7" y1="485" x2="685.7" y2="588" /><line x1="687.8" y1="485" x2="687.8" y2="588" /><line x1="689.9" y1="485" x2="689.9" y2="588" /><line x1="692.0" y1="485" x2="692.0" y2="588" /><line x1="694.1" y1="485" x2="694.1" y2="588" /><line x1="696.2" y1="485" x2="696.2" y2="588" /></g>
<line x1="676.6" y1="503.5" x2="693.6" y2="503.5" stroke="#f0f0f0" stroke-width="1.2" stroke-linecap="round"/>
<line x1="676.6" y1="569.8" x2="693.6" y2="569.8" stroke="#f0f0f0" stroke-width="1.2" stroke-linecap="round"/>
<rect x="675.2" y="533.5" width="4.399999999999977" height="6.0" rx="0" stroke="#ddd" stroke-width="0.7" fill="none" />
<path d="M690.5,533 L692,540 L693,535 L694,540 L695.3,533" stroke="#bbb" stroke-width="0.6" fill="none" />
<line x1="615.8" y1="630.6" x2="674.7" y2="630.6" stroke="#222" stroke-width="1.15" />
<polygon points="615.80,630.60 627.80,628.40 627.80,632.80" fill="#1a1a1a"/>
<polygon points="674.70,630.60 662.70,632.80 662.70,628.40" fill="#1a1a1a"/>
<line x1="674.7" y1="588.4" x2="674.7" y2="630.6" stroke="#222" stroke-width="1.15" />
<text transform="translate(645.7,627.2) scale(0.83,1)" text-anchor="middle" font-size="16.2">80</text>
<line x1="589.2" y1="663.8" x2="703.2" y2="663.8" stroke="#222" stroke-width="1.15" />
<polygon points="589.20,663.80 601.20,661.60 601.20,666.00" fill="#1a1a1a"/>
<polygon points="703.20,663.80 691.20,666.00 691.20,661.60" fill="#1a1a1a"/>
<text transform="translate(645.8,662.4) scale(0.83,1)" text-anchor="middle" font-size="16.2">160</text>
<line x1="610.5" y1="677" x2="682.2" y2="677" stroke="#222" stroke-width="1.15" />
<polygon points="610.50,677.00 622.50,674.80 622.50,679.20" fill="#1a1a1a"/>
<polygon points="682.20,677.00 670.20,679.20 670.20,674.80" fill="#1a1a1a"/>
<text transform="translate(645.8,676.4) scale(0.83,1)" text-anchor="middle" font-size="16.2">100</text>
<rect x="588.9" y="687.8" width="114.30000000000007" height="149.60000000000002" rx="24" stroke="#222" stroke-width="1.1" fill="none" />
<line x1="588.9" y1="663.8" x2="588.9" y2="716" stroke="#222" stroke-width="1.15" />
<line x1="703.2" y1="663.8" x2="703.2" y2="716" stroke="#222" stroke-width="1.15" />
<line x1="610.5" y1="677" x2="610.5" y2="712" stroke="#222" stroke-width="1.15" />
<line x1="682.2" y1="677" x2="682.2" y2="712" stroke="#222" stroke-width="1.15" />
<g fill="white" stroke="#222" stroke-width="0.95"><circle cx="616.2" cy="692.0" r="1.55"/><circle cx="616.2" cy="833.2" r="1.55"/><circle cx="623.8" cy="692.0" r="1.55"/><circle cx="623.8" cy="833.2" r="1.55"/><circle cx="631.3" cy="692.0" r="1.55"/><circle cx="631.3" cy="833.2" r="1.55"/><circle cx="638.9" cy="692.0" r="1.55"/><circle cx="638.9" cy="833.2" r="1.55"/><circle cx="646.4" cy="692.0" r="1.55"/><circle cx="646.4" cy="833.2" r="1.55"/><circle cx="654.0" cy="692.0" r="1.55"/><circle cx="654.0" cy="833.2" r="1.55"/><circle cx="661.5" cy="692.0" r="1.55"/><circle cx="661.5" cy="833.2" r="1.55"/><circle cx="669.1" cy="692.0" r="1.55"/><circle cx="669.1" cy="833.2" r="1.55"/><circle cx="676.6" cy="692.0" r="1.55"/><circle cx="676.6" cy="833.2" r="1.55"/><circle cx="593.4" cy="709.6" r="1.55"/><circle cx="698.8" cy="709.6" r="1.55"/><circle cx="593.4" cy="717.1" r="1.55"/><circle cx="698.8" cy="717.1" r="1.55"/><circle cx="593.4" cy="724.6" r="1.55"/><circle cx="698.8" cy="724.6" r="1.55"/><circle cx="593.4" cy="732.1" r="1.55"/><circle cx="698.8" cy="732.1" r="1.55"/><circle cx="593.4" cy="739.6" r="1.55"/><circle cx="698.8" cy="739.6" r="1.55"/><circle cx="593.4" cy="747.1" r="1.55"/><circle cx="698.8" cy="747.1" r="1.55"/><circle cx="593.4" cy="754.6" r="1.55"/><circle cx="698.8" cy="754.6" r="1.55"/><circle cx="593.4" cy="762.1" r="1.55"/><circle cx="698.8" cy="762.1" r="1.55"/><circle cx="593.4" cy="769.6" r="1.55"/><circle cx="698.8" cy="769.6" r="1.55"/><circle cx="593.4" cy="777.1" r="1.55"/><circle cx="698.8" cy="777.1" r="1.55"/><circle cx="593.4" cy="799.6" r="1.55"/><circle cx="698.8" cy="799.6" r="1.55"/><circle cx="593.4" cy="807.1" r="1.55"/><circle cx="698.8" cy="807.1" r="1.55"/><circle cx="593.4" cy="814.6" r="1.55"/><circle cx="698.8" cy="814.6" r="1.55"/><circle cx="595.3" cy="704.7" r="1.55"/><circle cx="599.9" cy="698.1" r="1.55"/><circle cx="606.7" cy="694.1" r="1.55"/><circle cx="696.9" cy="704.7" r="1.55"/><circle cx="692.3" cy="698.1" r="1.55"/><circle cx="685.5" cy="694.1" r="1.55"/><circle cx="595.3" cy="820.3" r="1.55"/><circle cx="599.9" cy="826.9" r="1.55"/><circle cx="606.7" cy="830.9" r="1.55"/><circle cx="696.9" cy="820.3" r="1.55"/><circle cx="692.3" cy="826.9" r="1.55"/><circle cx="685.5" cy="830.9" r="1.55"/></g>
<circle cx="593.4" cy="784.6" r="1.7" stroke="#222" stroke-width="0.4" fill="#111" />
<circle cx="698.8" cy="784.6" r="1.7" stroke="#222" stroke-width="0.4" fill="#111" />
<circle cx="593.4" cy="792.1" r="1.7" stroke="#222" stroke-width="0.4" fill="#111" />
<circle cx="698.8" cy="792.1" r="1.7" stroke="#222" stroke-width="0.4" fill="#111" />
<rect x="610.5" y="709.6" width="71.89999999999998" height="105.5" rx="11" stroke="#1e1e1e" stroke-width="1.3" fill="white" />
<path d="M612.3,720 A9.5,9.5 0 0 1 621.5,711.2" stroke="#222" stroke-width="0.7" fill="none" />
<path d="M680.6,804 A9.5,9.5 0 0 1 671.5,813.3" stroke="#222" stroke-width="0.7" fill="none" />
<rect x="633.4" y="728.2" width="26.399999999999977" height="19.59999999999991" rx="4.5" stroke="#222" stroke-width="1.1" fill="white" />
<path d="M587.2,781.3 L574.5,781.3 Q568.1,781.3 568.1,787.5 L568.1,799.6" stroke="#222" stroke-width="1.15" fill="none" />
<line x1="588.1" y1="778.6" x2="588.1" y2="797.8" stroke="#1a1a1a" stroke-width="2.0" />
<rect x="572.3" y="788.2" width="6.300000000000068" height="7.5" rx="0" stroke="#222" stroke-width="1.15" fill="white" />
<rect x="567.3" y="799.6" width="15.5" height="10.199999999999932" fill="#1a1a1a"/>
<path d="M581.7,799.6 L581.7,797.8 Q582.5,794.8 585.0,794.8 Q587.2,795.2 587.2,797.8" stroke="#222" stroke-width="1.15" fill="none" />
<line x1="582.8" y1="809.8" x2="582.8" y2="827" stroke="#222" stroke-width="1.15" />
<path d="M705.5,781.3 L718.2,781.3 Q724.6,781.3 724.6,787.5 L724.6,799.6" stroke="#222" stroke-width="1.15" fill="none" />
<line x1="704.6" y1="778.6" x2="704.6" y2="797.8" stroke="#1a1a1a" stroke-width="2.0" />
<rect x="714.1" y="788.2" width="6.2999999999999545" height="7.5" rx="0" stroke="#222" stroke-width="1.15" fill="white" />
<rect x="709.9" y="799.6" width="15.5" height="10.199999999999932" fill="#1a1a1a"/>
<path d="M711.0,799.6 L711.0,797.8 Q710.2,794.8 707.7,794.8 Q705.5,795.2 705.5,797.8" stroke="#222" stroke-width="1.15" fill="none" />
<line x1="709.9" y1="809.8" x2="709.9" y2="827" stroke="#222" stroke-width="1.15" />
<line x1="567.3" y1="809.8" x2="567.3" y2="858.5" stroke="#222" stroke-width="1.15" />
<line x1="725.4" y1="809.8" x2="725.4" y2="858.5" stroke="#222" stroke-width="1.15" />
<line x1="556.9" y1="709.6" x2="556.9" y2="814.4" stroke="#222" stroke-width="1.15" />
<line x1="556.9" y1="709.6" x2="610.5" y2="709.6" stroke="#222" stroke-width="1.15" />
<line x1="557.8" y1="814.4" x2="682.4" y2="814.4" stroke="#222" stroke-width="1.15" />
<polygon points="556.90,709.60 559.10,721.60 554.70,721.60" fill="#1a1a1a"/>
<polygon points="556.90,814.40 554.70,802.40 559.10,802.40" fill="#1a1a1a"/>
<text transform="translate(553.8,755.5) rotate(-90) scale(0.83,1)" text-anchor="middle" font-size="16.2">145</text>
<line x1="736.1" y1="687.8" x2="736.1" y2="837.4" stroke="#222" stroke-width="1.15" />
<line x1="682" y1="687.8" x2="739" y2="687.8" stroke="#222" stroke-width="1.15" />
<line x1="682" y1="837.4" x2="739" y2="837.4" stroke="#222" stroke-width="1.15" />
<polygon points="736.10,687.80 738.30,699.80 733.90,699.80" fill="#1a1a1a"/>
<polygon points="736.10,837.40 733.90,825.40 738.30,825.40" fill="#1a1a1a"/>
<text transform="translate(732.2,759) rotate(-90) scale(0.83,1)" text-anchor="middle" font-size="16.2">207</text>
<line x1="567.3" y1="856.2" x2="725.4" y2="856.2" stroke="#222" stroke-width="1.15" />
<polygon points="567.30,856.20 579.30,854.00 579.30,858.40" fill="#1a1a1a"/>
<polygon points="725.40,856.20 713.40,858.40 713.40,854.00" fill="#1a1a1a"/>
<text transform="translate(646.3,854.2) scale(0.83,1)" text-anchor="middle" font-size="16.2">220</text>
<line x1="538" y1="824.3" x2="600.1" y2="824.3" stroke="#222" stroke-width="1.15" />
<polygon points="567.30,824.30 555.30,826.50 555.30,822.10" fill="#1a1a1a"/>
<polygon points="582.80,824.30 594.80,822.10 594.80,826.50" fill="#1a1a1a"/>
<text transform="translate(541.2,819.6) scale(0.83,1)" text-anchor="middle" font-size="16.2">G 1/2</text>
<line x1="694.5" y1="817.3" x2="770" y2="817.3" stroke="#222" stroke-width="1.15" />
<polygon points="709.90,817.30 697.90,819.50 697.90,815.10" fill="#1a1a1a"/>
<polygon points="725.40,817.30 737.40,815.10 737.40,819.50" fill="#1a1a1a"/>
<text transform="translate(757.1,815) scale(0.83,1)" text-anchor="middle" font-size="16.2">G 1/2</text>
</svg></body></html>
